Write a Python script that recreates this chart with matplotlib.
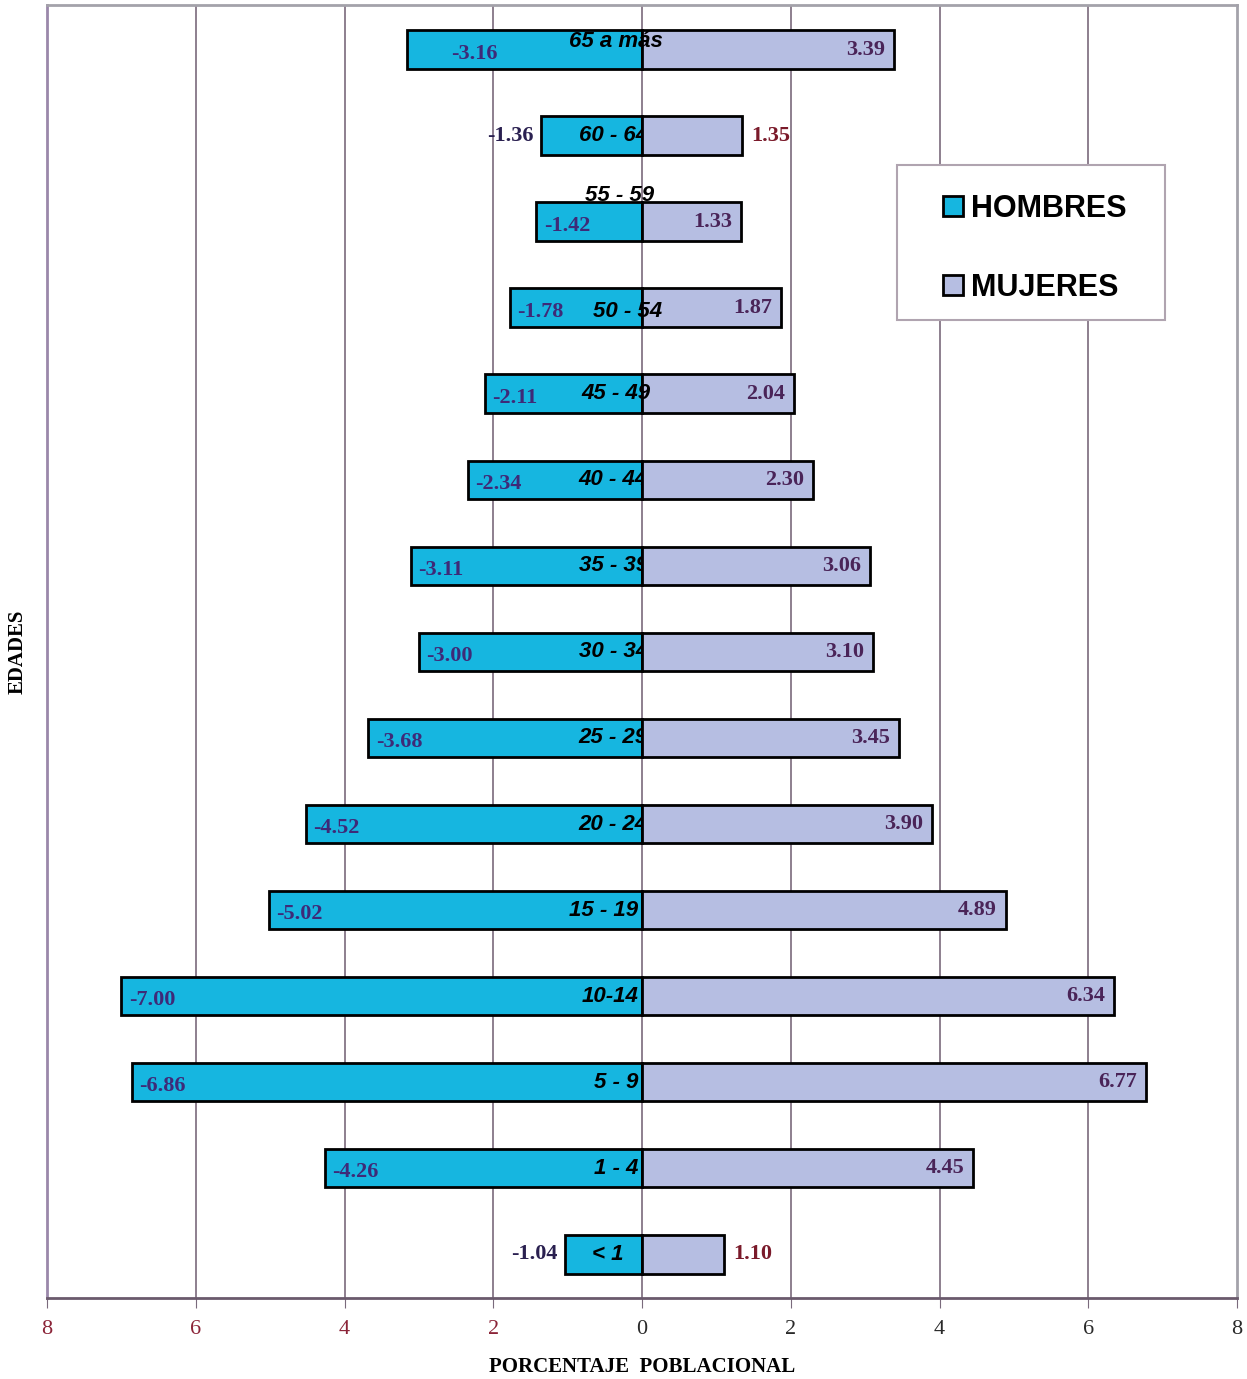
import numpy as np
import matplotlib.pyplot as plt
from matplotlib.patches import Patch, Rectangle

# age groups from youngest (bottom) to oldest (top)
edades = ["< 1", "1 - 4", "5 - 9", "10-14", "15 - 19", "20 - 24", "25 - 29",
          "30 - 34", "35 - 39", "40 - 44", "45 - 49", "50 - 54", "55 - 59",
          "60 - 64", "65 a más"]
hombres = [-1.04, -4.26, -6.86, -7.00, -5.02, -4.52, -3.68,
           -3.00, -3.11, -2.34, -2.11, -1.78, -1.42, -1.36, -3.16]
mujeres = [1.10, 4.45, 6.77, 6.34, 4.89, 3.90, 3.45,
           3.10, 3.06, 2.30, 2.04, 1.87, 1.33, 1.35, 3.39]
ticks = [-8, -6, -4, -2, 0, 2, 4, 6, 8]

c_h = "#16b6e0"
c_m = "#b6bee2"
grid_c = "#7a6a7c"
serif = "Liberation Serif"
sans = "Liberation Sans"

fig = plt.figure(figsize=(12.47, 13.79), dpi=100)
ax = fig.add_axes([0.0377, 0.0587, 0.9543, 0.9377])

y = np.arange(len(edades))
h = 0.45
ax.barh(y, hombres, height=h, color=c_h, edgecolor="black", linewidth=2, zorder=2)
ax.barh(y, mujeres, height=h, color=c_m, edgecolor="black", linewidth=2, zorder=4)

ax.set_xlim(-8, 8)
ax.set_ylim(-0.51, 14.52)
ax.set_xticks(ticks)
ax.set_xticklabels([str(abs(t)) for t in ticks], fontfamily=serif, fontsize=16)
for lab, t in zip(ax.get_xticklabels(), ticks):
    lab.set_color("#8b2438" if t < 0 else "#2a2a2a")
ax.tick_params(axis="x", length=7, color=grid_c, pad=9)
ax.set_yticks([])
for t in ticks[1:-1]:
    ax.axvline(t, color=grid_c, linewidth=1.2, zorder=1)

ax.spines["left"].set_color("#9a88aa")
ax.spines["top"].set_color("#a4a2aa")
ax.spines["right"].set_color("#a4a2aa")
ax.spines["bottom"].set_color("#6a5a6c")
for s in ax.spines.values():
    s.set_linewidth(2)

# value labels
outside = ["60 - 64", "< 1"]
for i, (e, hv, mv) in enumerate(zip(edades, hombres, mujeres)):
    if e in outside:
        ax.text(hv - 0.1, i, f"{hv:.2f}", ha="right", va="center", fontfamily=serif,
                fontweight="bold", fontsize=16, color="#2a2050", zorder=5)
        ax.text(mv + 0.12, i, f"{mv:.2f}", ha="left", va="center", fontfamily=serif,
                fontweight="bold", fontsize=16, color="#7a1a2a", zorder=5)
    else:
        dx = 0.6 if e == "65 a más" else 0.1
        ax.text(hv + dx, i - 0.05, f"{hv:.2f}", ha="left", va="center", fontfamily=serif,
                fontweight="bold", fontsize=16, color="#3e2a78", zorder=5)
        ax.text(mv - 0.12, i, f"{mv:.2f}", ha="right", va="center", fontfamily=serif,
                fontweight="bold", fontsize=16, color="#4a2458", zorder=5)

# age group labels (partly hidden under the women's bars, as in the original)
visible = ["< 1", "1 - 4", "5 - 9", "10-14", "15 - 19"]
for i, e in enumerate(edades):
    kw = dict(va="center", fontfamily=sans, fontweight="bold", style="italic", fontsize=16)
    if e == "65 a más":
        ax.text(-0.35, i + 0.1, e, ha="center", zorder=5, **kw)
    elif e == "55 - 59":
        ax.text(-0.3, i + 0.3, e, ha="center", zorder=3, **kw)
    elif e == "50 - 54":
        ax.text(-0.2, i - 0.04, e, ha="center", zorder=5, **kw)
    elif e == "45 - 49":
        ax.text(0.12, i, e, ha="right", zorder=5, **kw)
    elif e in visible:
        ax.text(-0.05 if e != "< 1" else -0.25, i, e, ha="right", zorder=3, **kw)
    else:
        ax.text(0.08, i, e, ha="right", zorder=3, **kw)

ax.set_xlabel("PORCENTAJE  POBLACIONAL", fontfamily=serif, fontweight="bold",
              fontsize=15, labelpad=13)
ax.set_ylabel("EDADES", fontfamily=serif, fontweight="bold", fontsize=15, labelpad=14)

# legend box drawn separately so its padding matches the original
ax.add_patch(Rectangle((0.7143, 0.7564), 0.2252, 0.1199, transform=ax.transAxes,
                       facecolor="white", edgecolor="#b0a4b0", linewidth=1.5, zorder=6))
handles = [Patch(facecolor=c_h, edgecolor="black", linewidth=2, label="HOMBRES"),
           Patch(facecolor=c_m, edgecolor="black", linewidth=2, label="MUJERES")]
leg = ax.legend(handles=handles, loc="upper left", bbox_to_anchor=(0.753, 0.854),
                prop={"family": sans, "weight": "bold", "size": 22},
                frameon=False, handlelength=0.65, handleheight=0.65, handletextpad=0.25,
                labelspacing=1.6, borderpad=0, borderaxespad=0)
leg.set_zorder(7)

fig.savefig("out.png", dpi=100)
